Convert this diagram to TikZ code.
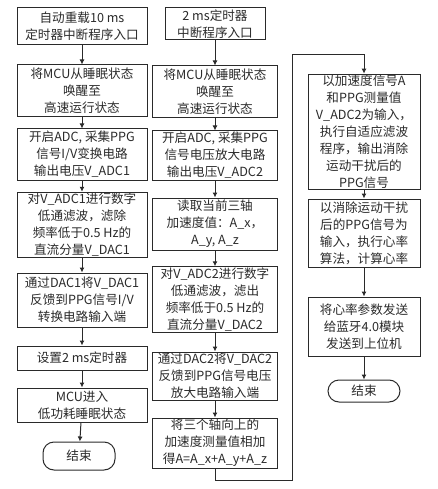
\documentclass[tikz,border=0pt]{standalone}
\usepackage{fontspec}
\setmainfont{Noto Sans CJK SC}
\usepackage{tikz}
\usetikzlibrary{arrows.meta}
\definecolor{Ink}{HTML}{2A2A2A}

\begin{document}
\begin{tikzpicture}[x=1pt,y=-1pt,
    font=\fontsize{12.6}{17}\selectfont,
    blk/.style={draw=Ink,line width=1pt,align=center,inner sep=1pt,text=Ink},
    endblk/.style={blk,rounded corners=11pt},
    arr/.style={draw=Ink,line width=1pt,-{Latex[length=5pt,width=5pt]}}]
        \useasboundingbox (0,0) rectangle (437,489);
        % column 1: 10 ms timer
        \node[blk,minimum width=130pt,minimum height=37pt] (a1) at (82,26.5) {自动重载10 ms\\定时器中断程序入口};
        \node[blk,minimum width=130pt,minimum height=52pt] (a2) at (82,91) {将MCU从睡眠状态\\唤醒至\\高速运行状态};
        \node[blk,minimum width=130pt,minimum height=51pt] (a3) at (82,154.5) {开启ADC, 采集PPG\\信号I/V变换电路\\输出电压V\_ADC1};
        \node[blk,minimum width=130pt,minimum height=64pt] (a4) at (82,225) {对V\_ADC1进行数字\\低通滤波，滤除\\频率低于0.5 Hz的\\直流分量V\_DAC1};
        \node[blk,minimum width=130pt,minimum height=54pt] (a5) at (82,300) {通过DAC1将V\_DAC1\\反馈到PPG信号I/V\\转换电路输入端};
        \node[blk,minimum width=130pt,minimum height=24pt] (a6) at (82,358) {设置2 ms定时器};
        \node[blk,minimum width=130pt,minimum height=34pt] (a7) at (82,405) {MCU进入\\低功耗睡眠状态};
        \node[endblk,minimum width=72pt,minimum height=28pt] (a8) at (79,456) {结束};
        % column 2: 2 ms timer
        \node[blk,minimum width=100pt,minimum height=32pt] (b1) at (215,24) {2 ms定时器\\中断程序入口};
        \node[blk,minimum width=125pt,minimum height=52pt] (b2) at (215,92) {将MCU从睡眠状态\\唤醒至\\高速运行状态};
        \node[blk,minimum width=125pt,minimum height=49pt] (b3) at (215,155.5) {开启ADC, 采集PPG\\信号电压放大电路\\输出电压V\_ADC2};
        \node[blk,minimum width=125pt,minimum height=52pt] (b4) at (215,224) {读取当前三轴\\加速度值：A\_x，\\A\_y, A\_z};
        \node[blk,minimum width=125pt,minimum height=65pt] (b5) at (215,299.5) {对V\_ADC2进行数字\\低通滤波，滤出\\频率低于0.5 Hz的\\直流分量V\_DAC2};
        \node[blk,minimum width=125pt,minimum height=48pt] (b6) at (215,376) {通过DAC2将V\_DAC2\\反馈到PPG信号电压\\放大电路输入端};
        \node[blk,minimum width=125pt,minimum height=50pt] (b7) at (215,443) {将三个轴向上的\\加速度测量值相加\\得A=A\_x+A\_y+A\_z};
        % column 3
        \node[blk,minimum width=112pt,minimum height=108pt] (c1) at (364,132) {以加速度信号A\\和PPG测量值\\V\_ADC2为输入，\\执行自适应滤波\\程序，输出消除\\运动干扰后的\\PPG信号};
        \node[blk,minimum width=112pt,minimum height=68pt] (c2) at (364,233) {以消除运动干扰\\后的PPG信号为\\输入，执行心率\\算法，计算心率};
        \node[blk,minimum width=112pt,minimum height=59pt] (c3) at (364,326.5) {将心率参数发送\\给蓝牙4.0模块\\发送到上位机};
        \node[endblk,minimum width=72pt,minimum height=22pt] (c4) at (364,391) {结束};
        \foreach \u/\v in {a1/a2,a2/a3,a3/a4,a4/a5,a5/a6,a6/a7,a7/a8,
                           b1/b2,b2/b3,b3/b4,b4/b5,b5/b6,b6/b7,
                           c1/c2,c2/c3,c3/c4}
          \draw[arr] (\u) -- (\v);
        % loop back to column 3
        \coordinate (lpa) at (292,480);
        \coordinate (lpb) at (364,55);
        \draw[arr] (b7.south) |- (lpa) |- (lpb) -- (c1.north);
      \end{tikzpicture}
\end{document}
